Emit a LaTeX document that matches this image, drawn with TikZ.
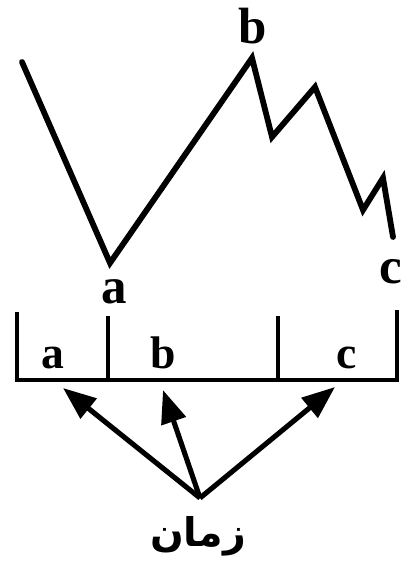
\documentclass[tikz,border=0pt]{standalone}
\usepackage{fontspec}
\setmainfont{Liberation Serif}
\newfontfamily\arabicfont[Script=Arabic]{DejaVu Sans}
\TeXXeTstate=1
\usetikzlibrary{arrows.meta}

\begin{document}
\begin{tikzpicture}[
  x=0.02cm, y=-0.02cm,
  wave/.style={line width=3.3pt, line join=miter, line cap=round},
  frame/.style={line width=2.7pt},
  lbl/.style={font=\fontsize{29}{30}\selectfont\bfseries, inner sep=0pt, anchor=base},
  cell/.style={font=\fontsize{26}{28}\selectfont\bfseries, inner sep=0pt, anchor=base},
  pick/.style={line width=2.9pt, -{Triangle[length=0.66cm, width=0.5cm]}},
]
\useasboundingbox (0,0) rectangle (408,561);
% price wave
\foreach \n/\x/\y in {w0/22/62, wa/110/263, wb/252/58, w3/272/137, w4/315/87, w5/363/210, w6/383/178, wc/393/237}
  \coordinate (\n) at (\x,\y);
\draw[wave] (w0) -- (wa) -- (wb) -- (w3) -- (w4) -- (w5) -- (w6) -- (wc);
\node[lbl] (la) at (114,303) {a};
\node[lbl] (lb) at (253,43) {b};
\node[lbl] (lc) at (391,283) {c};
% time axis
\coordinate (fl) at (17,312);
\coordinate (fr) at (397,310);
\draw[frame] (fl) -- (17,380) -- (397,380) -- (fr);
\foreach \n/\x in {d1/108, d2/278}{
  \coordinate (\n) at (\x,316);
  \draw[frame] (\n) -- (\x,380);
}
\node[cell] (ca) at (53,368) {a};
\node[cell] (cb) at (163,368) {b};
\node[cell] (cc) at (347,368) {c};
% arrows
\node[font=\fontsize{22.5}{28}\arabicfont\bfseries, inner sep=0pt] (zaman) at (198,536) {\beginR زمان\endR};
\coordinate (src) at (200,498);
\foreach \n/\x/\y in {ta/63/388, tb/163/390, tc/335/387}{
  \coordinate (\n) at (\x,\y);
  \draw[pick] (src) -- (\n);
}
\end{tikzpicture}
\end{document}
